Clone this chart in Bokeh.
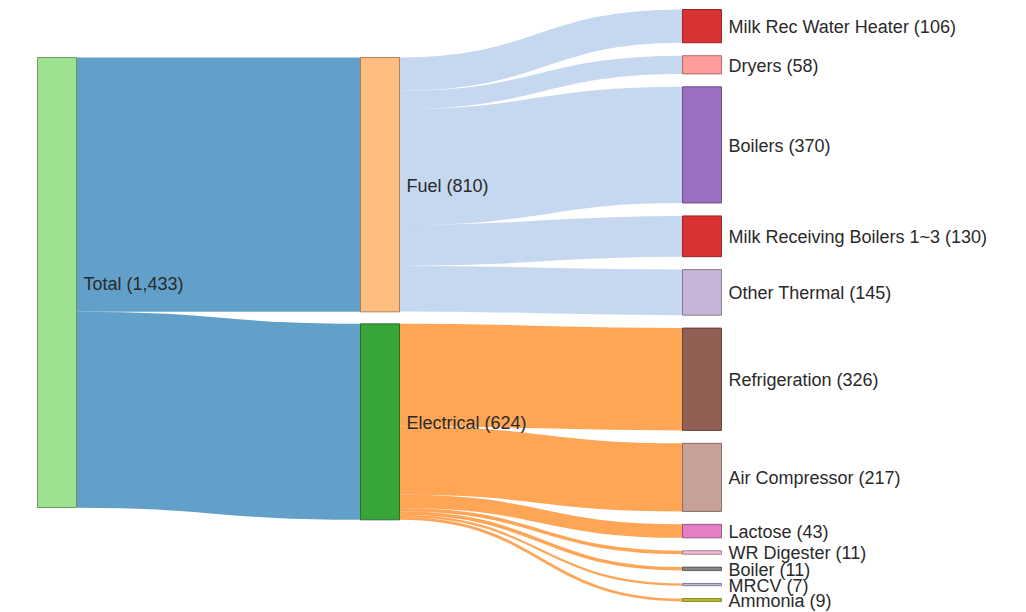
import numpy as np
from bokeh.plotting import figure
from bokeh.models import Range1d, ColumnDataSource
from bokeh.core.properties import value
from bokeh.embed import file_html
from bokeh.resources import INLINE

# ---- data ----
node_names = ["Total", "Fuel", "Electrical",
              "Milk Rec Water Heater", "Dryers", "Boilers",
              "Milk Receiving Boilers 1~3", "Other Thermal",
              "Refrigeration", "Air Compressor", "Lactose",
              "WR Digester", "Boiler", "MRCV", "Ammonia"]
node_values = [1433, 810, 624, 106, 58, 370, 130, 145, 326, 217, 43, 11, 11, 7, 9]
node_colors = ["#98df8a", "#ffbb78", "#2ca02c", "#d62728", "#ff9896", "#9467bd",
               "#d62728", "#c5b0d5", "#8c564b", "#c49c94", "#e377c2", "#f7b6d2",
               "#7f7f7f", "#b7b3d3", "#bcbd22"]

link_sources = ["Total", "Total",
                "Fuel", "Fuel", "Fuel", "Fuel", "Fuel",
                "Electrical", "Electrical", "Electrical", "Electrical",
                "Electrical", "Electrical", "Electrical"]
link_targets = ["Fuel", "Electrical",
                "Milk Rec Water Heater", "Dryers", "Boilers",
                "Milk Receiving Boilers 1~3", "Other Thermal",
                "Refrigeration", "Air Compressor", "Lactose",
                "WR Digester", "Boiler", "MRCV", "Ammonia"]
link_values = [810, 624, 106, 58, 370, 130, 145, 326, 217, 43, 11, 11, 7, 9]
link_color_by_source = {"Total": "#1f77b4", "Fuel": "#aec7e8", "Electrical": "#ff7f0e"}

# ---- layout constants ----
W, H = 1026, 612
COL_X = [37, 360, 682]
NODE_W = 39
COL_TOP = [57, 57, 9]
COL_GAP = [12, 12, 12.9]
K = 450.0 / 1433.0  # px per unit

# depth of each node
depth = {n: 0 for n in node_names}
changed = True
while changed:
    changed = False
    for s, t in zip(link_sources, link_targets):
        if depth[t] < depth[s] + 1:
            depth[t] = depth[s] + 1
            changed = True

# node positions
pos = {}
for c in range(3):
    y = COL_TOP[c]
    for n, v in zip(node_names, node_values):
        if depth[n] == c:
            h = v * K
            pos[n] = (COL_X[c], COL_X[c] + NODE_W, y, y + h)
            y += h + COL_GAP[c]


def darker(hexc, f=0.62):
    r, g, b = int(hexc[1:3], 16), int(hexc[3:5], 16), int(hexc[5:7], 16)
    return "#%02x%02x%02x" % (int(r * f), int(g * f), int(b * f))


# link geometry
src_off = {n: 0.0 for n in node_names}
tgt_off = {n: 0.0 for n in node_names}
L = dict(x0=[], y0=[], x1=[], y1=[], cx0=[], cy0=[], cx1=[], cy1=[], w=[], color=[])
for s, t, v in zip(link_sources, link_targets, link_values):
    w = v * K
    sx = pos[s][1]
    tx = pos[t][0]
    sy = pos[s][2] + src_off[s] + w / 2
    ty = pos[t][2] + tgt_off[t] + w / 2
    src_off[s] += w
    tgt_off[t] += w
    xm = (sx + tx) / 2
    L["x0"].append(sx); L["y0"].append(sy)
    L["x1"].append(tx); L["y1"].append(ty)
    L["cx0"].append(xm); L["cy0"].append(sy)
    L["cx1"].append(xm); L["cy1"].append(ty)
    L["w"].append(max(w, 1.0))
    L["color"].append(link_color_by_source[s])

p = figure(width=W, height=H, x_range=Range1d(0, W), y_range=Range1d(H, 0),
           output_backend="svg", toolbar_location=None, min_border=0,
           background_fill_color="white", border_fill_color="white")
p.outline_line_color = None
p.axis.visible = False
p.grid.visible = False

p.bezier(x0="x0", y0="y0", x1="x1", y1="y1", cx0="cx0", cy0="cy0", cx1="cx1", cy1="cy1",
         line_width="w", line_color="color", line_alpha=0.7, source=ColumnDataSource(L))

N = dict(left=[], right=[], top=[], bottom=[], fill=[], stroke=[], lx=[], ly=[], label=[])
for n, v, col in zip(node_names, node_values, node_colors):
    x0, x1, y0, y1 = pos[n]
    N["left"].append(x0); N["right"].append(x1)
    N["top"].append(y0); N["bottom"].append(y1)
    N["fill"].append(col); N["stroke"].append(darker(col))
    N["lx"].append(x1 + 7); N["ly"].append((y0 + y1) / 2 + 1)
    N["label"].append(f"{n} ({v:,})")
ns = ColumnDataSource(N)
p.quad(left="left", right="right", top="top", bottom="bottom", fill_color="fill",
       fill_alpha=0.95, line_color="stroke", line_alpha=0.85, line_width=1, source=ns)
p.text(x="lx", y="ly", text="label", text_font=value("Liberation Sans"),
       text_font_size="18px", text_color="#2a2a2a", text_baseline="middle",
       text_align="left", source=ns)

open("out.html", "w").write(file_html(p, INLINE))
